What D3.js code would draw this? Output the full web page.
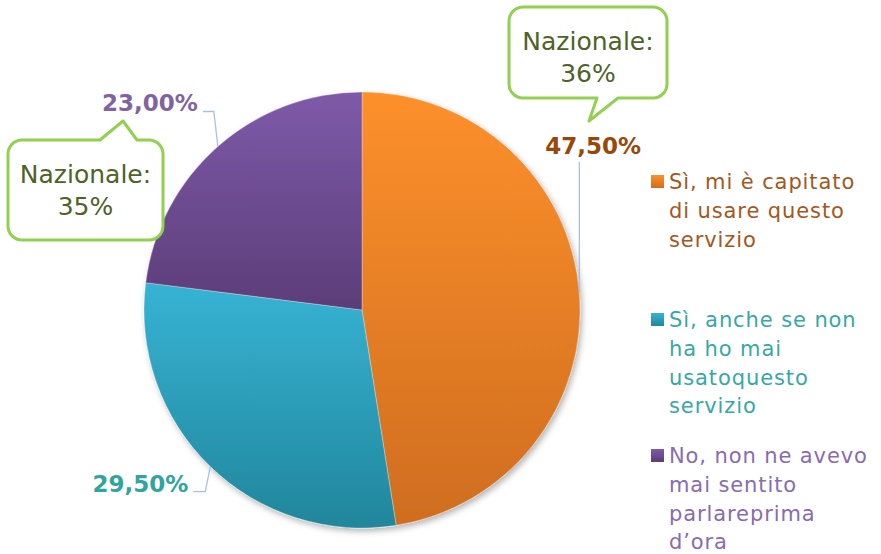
<!DOCTYPE html>
<html>
<head>
<meta charset="utf-8">
<script src="https://cdn.jsdelivr.net/npm/d3@7"></script>
<style>
  html, body { margin: 0; padding: 0; background: #fff; }
  svg { display: block; font-family: "DejaVu Sans", sans-serif; }
</style>
</head>
<body>
<svg id="chart" width="881" height="554"></svg>
<script>
// data
const categories = ["Sì, mi è capitato di usare questo servizio", "Sì, anche se non ha ho mai usatoquesto servizio", "No, non ne avevo mai sentito parlareprima d’ora"];
const values = [47.5, 29.5, 23.0];
const valueLabels = ["47,50%", "29,50%", "23,00%"];
const legendLines = [
  ["Sì, mi è capitato", "di usare questo", "servizio"],
  ["Sì, anche se non", "ha ho mai", "usatoquesto", "servizio"],
  ["No, non ne avevo", "mai sentito", "parlareprima", "d’ora"]
];
const calloutLines = [["Nazionale:", "36%"], ["Nazionale:", "35%"]];

const topColors = ["#fd902c", "#37b3d4", "#7e5aa9"];
const bottomColors = ["#cf6d1f", "#21869c", "#5c3d78"];
const labelColors = ["#984807", "#2fa59c", "#8064a2"];
const legendColors = ["#a5571b", "#36a8a6", "#8a6bb0"];

const svg = d3.select("#chart");
const cx = 362, cy = 310, r = 218;

const defs = svg.append("defs");
topColors.forEach((c, i) => {
  const lg = defs.append("linearGradient").attr("id", "grad" + i)
    .attr("x1", 0).attr("y1", 0).attr("x2", 0).attr("y2", 1);
  lg.append("stop").attr("offset", "0%").attr("stop-color", c);
  lg.append("stop").attr("offset", "100%").attr("stop-color", bottomColors[i]);
});
const f = defs.append("filter").attr("id", "shadow")
  .attr("x", "-10%").attr("y", "-10%").attr("width", "125%").attr("height", "125%");
f.append("feDropShadow").attr("dx", 2).attr("dy", 3).attr("stdDeviation", 3)
  .attr("flood-color", "#000").attr("flood-opacity", 0.3);

const pie = d3.pie().sort(null).value(d => d);
const arcs = pie(values);
const arc = d3.arc().innerRadius(0).outerRadius(r);

const g = svg.append("g").attr("transform", `translate(${cx},${cy})`);
g.append("g").attr("filter", "url(#shadow)")
  .selectAll("path").data(arcs).join("path")
  .attr("d", arc)
  .attr("fill", (d, i) => `url(#grad${i})`)
  .attr("stroke", "rgba(255,255,255,0.5)")
  .attr("stroke-width", 0.6);

// leader lines + data labels
function edgePoint(d) {
  const a = (d.startAngle + d.endAngle) / 2;
  return [cx + r * Math.sin(a), cy - r * Math.cos(a)];
}
// elbow offsets relative to edge point, and label anchor
const leaderSpec = [
  { elbow: [0, -131], end: [0, -131], text: [-34, -139], anchor: "start" },
  { elbow: [-5, 25], end: [-17, 25], text: [-22, 25], anchor: "end" },
  { elbow: [-4, -35], end: [-15, -35], text: [-20, -35], anchor: "end" }
];
arcs.forEach((d, i) => {
  const [ex, ey] = edgePoint(d);
  const s = leaderSpec[i];
  svg.append("polyline")
    .attr("points", [[ex, ey], [ex + s.elbow[0], ey + s.elbow[1]], [ex + s.end[0], ey + s.end[1]]].map(p => p.join(",")).join(" "))
    .attr("fill", "none").attr("stroke", "#a7c2e6").attr("stroke-width", 1.3);
  svg.append("text")
    .attr("x", ex + s.text[0]).attr("y", ey + s.text[1])
    .attr("text-anchor", s.anchor)
    .attr("font-weight", "bold").attr("font-size", 23)
    .attr("fill", labelColors[i])
    .text(valueLabels[i]);
});

// callouts
const boxes = [
  { x: 509, y: 7, w: 158, h: 91, tail: "bottom", t: [597, 589, 121, 618] },
  { x: 8, y: 140, w: 155, h: 100, tail: "top", t: [100, 123, 121, 137] }
];
boxes.forEach((b, i) => {
  const rr = 14, x0 = b.x, y0 = b.y, x1 = b.x + b.w, y1 = b.y + b.h;
  const p = d3.path();
  p.moveTo(x0 + rr, y0);
  if (b.tail === "top") { p.lineTo(b.t[0], y0); p.lineTo(b.t[1], b.t[2]); p.lineTo(b.t[3], y0); }
  p.lineTo(x1 - rr, y0);
  p.arcTo(x1, y0, x1, y0 + rr, rr);
  p.lineTo(x1, y1 - rr);
  p.arcTo(x1, y1, x1 - rr, y1, rr);
  if (b.tail === "bottom") { p.lineTo(b.t[3], y1); p.lineTo(b.t[1], b.t[2]); p.lineTo(b.t[0], y1); }
  p.lineTo(x0 + rr, y1);
  p.arcTo(x0, y1, x0, y1 - rr, rr);
  p.lineTo(x0, y0 + rr);
  p.arcTo(x0, y0, x0 + rr, y0, rr);
  p.closePath();
  svg.append("path").attr("d", p.toString())
    .attr("fill", "#fff").attr("stroke", "#92d050").attr("stroke-width", 3)
    .attr("stroke-linejoin", "round");
  const t = svg.append("text").attr("text-anchor", "middle")
    .attr("font-size", 25).attr("fill", "#4f6228");
  calloutLines[i].forEach((line, k) => {
    t.append("tspan").attr("x", b.x + b.w / 2).attr("y", b.y + 43 + k * 32).text(line);
  });
});

// legend
const legendTop = [189, 327, 463];
const lineH = 28.8;
legendLines.forEach((lines, i) => {
  const y = legendTop[i];
  svg.append("rect").attr("x", 651).attr("y", y - 14).attr("width", 13).attr("height", 13)
    .attr("fill", `url(#grad${i})`);
  const t = svg.append("text").attr("font-size", 21).attr("letter-spacing", 0.9)
    .attr("fill", legendColors[i]);
  lines.forEach((line, k) => {
    t.append("tspan").attr("x", 669).attr("y", y + k * lineH).text(line);
  });
});
</script>
</body>
</html>
